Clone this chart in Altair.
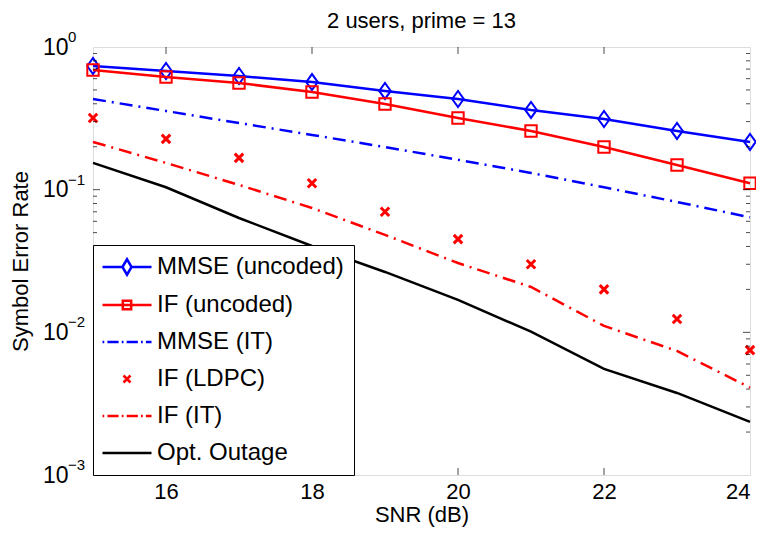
import math
import altair as alt
import pandas as pd

# ---------------- data ----------------
snr = [15, 16, 17, 18, 19, 20, 21, 22, 23, 24]
series_names = ["MMSE (uncoded)", "IF (uncoded)", "MMSE (IT)", "IF (LDPC)", "IF (IT)", "Opt. Outage"]
mmse_uncoded = [0.736, 0.679, 0.626, 0.568, 0.492, 0.432, 0.362, 0.313, 0.258, 0.216]
if_uncoded = [0.690, 0.616, 0.559, 0.484, 0.399, 0.318, 0.258, 0.199, 0.149, 0.111]
mmse_it = [0.432, 0.356, 0.293, 0.242, 0.199, 0.162, 0.131, 0.104, 0.082, 0.064]
if_ldpc = [0.318, 0.227, 0.167, 0.111, 0.070, 0.045, 0.030, 0.020, 0.0124, 0.0075]
if_it = [0.216, 0.154, 0.108, 0.0744, 0.0482, 0.0306, 0.0208, 0.0111, 0.0074, 0.0041]
opt_outage = [0.154, 0.104, 0.0633, 0.0403, 0.0265, 0.0169, 0.0101, 0.00554, 0.00376, 0.00236]

x_tick_values = [16, 18, 20, 22, 24]
y_tick_values = [0.001, 0.01, 0.1, 1]
y_tick_base = "10"
y_tick_exponents = ["−3", "−2", "−1", "0"]
x_major_inner = [16, 18, 20, 22]
y_major_inner = [0.01, 0.1]
y_minor_inner = [m * 10.0 ** e for e in (-3, -2, -1) for m in range(2, 10)]

title_text = "2 users, prime = 13"
x_title = "SNR (dB)"
y_title = "Symbol Error Rate"

# ---------------- styling ----------------
FONT = "Liberation Sans"
BLUE = "#0000ff"
RED = "#ff0000"
BLACK = "#000000"
W, H = 657, 428
DASHDOT = [13, 6, 2, 6]

all_values = [mmse_uncoded, if_uncoded, mmse_it, if_ldpc, if_it, opt_outage]
rows = []
for name, vals in zip(series_names, all_values):
    for s, v in zip(snr, vals):
        rows.append({"snr": s, "ser": v, "series": name})
df = pd.DataFrame(rows)

xs = alt.Scale(domain=[15, 24], nice=False, zero=False)
ys = alt.Scale(type="log", domain=[0.001, 1], nice=False)

x_axis = alt.Axis(values=x_tick_values, format="d", grid=False, ticks=False, tickSize=0,
                  domain=False, labelFont=FONT, labelFontSize=22, labelColor=BLACK,
                  labelPadding=6, title=x_title, titleFont=FONT, titleFontSize=22,
                  titleFontWeight="normal", titleColor=BLACK, titlePadding=2)
y_axis = alt.Axis(values=y_tick_values, labelExpr=f"'{y_tick_base}'", grid=False, ticks=False,
                  tickSize=0, domain=False, labelFont=FONT, labelFontSize=23,
                  labelColor=BLACK, labelPadding=25, title=y_title, titleFont=FONT,
                  titleFontSize=22, titleFontWeight="normal", titleColor=BLACK,
                  titlePadding=10)

X = alt.X("snr:Q", scale=xs, axis=x_axis)
Y = alt.Y("ser:Q", scale=ys, axis=y_axis)

base = alt.Chart(df)


def sel(name):
    return base.transform_filter(alt.datum.series == name)


layers = []
# MMSE uncoded
layers.append(sel(series_names[0]).mark_line(color=BLUE, strokeWidth=2.5).encode(x=X, y=Y))
layers.append(sel(series_names[0]).mark_point(
    shape="M-0.72,0L0,-1L0.72,0L0,1Z", size=256, filled=False, color=BLUE,
    strokeWidth=2, opacity=1).encode(x=X, y=Y))
# IF uncoded
layers.append(sel(series_names[1]).mark_line(color=RED, strokeWidth=2.5).encode(x=X, y=Y))
layers.append(sel(series_names[1]).mark_point(
    shape="square", size=130, filled=False, color=RED, strokeWidth=2,
    opacity=1).encode(x=X, y=Y))
# MMSE IT
layers.append(sel(series_names[2]).mark_line(color=BLUE, strokeWidth=2.5,
                                             strokeDash=DASHDOT).encode(x=X, y=Y))
# IF LDPC
layers.append(sel(series_names[3]).mark_point(
    shape="M-1,-1L1,1M-1,1L1,-1", size=72, filled=False, color=RED, strokeWidth=3,
    opacity=1).encode(x=X, y=Y))
# IF IT
layers.append(sel(series_names[4]).mark_line(color=RED, strokeWidth=2.5,
                                             strokeDash=DASHDOT).encode(x=X, y=Y))
# Opt outage
layers.append(sel(series_names[5]).mark_line(color=BLACK, strokeWidth=2.5).encode(x=X, y=Y))

# inner ticks
xt = pd.DataFrame({"snr": x_major_inner})
ytM = pd.DataFrame({"ser": y_major_inner})
ytm = pd.DataFrame({"ser": y_minor_inner})
for ypix in (0, H):
    layers.append(alt.Chart(xt).mark_tick(color=BLACK, thickness=1, size=14, clip=True)
                  .encode(x=X, y=alt.value(ypix)))
for xpix in (0, W):
    layers.append(alt.Chart(ytM).mark_tick(color=BLACK, thickness=1, size=14, clip=True)
                  .encode(y=Y, x=alt.value(xpix)))
    layers.append(alt.Chart(ytm).mark_tick(color=BLACK, thickness=1, size=8, clip=True)
                  .encode(y=Y, x=alt.value(xpix)))

# exponents of the y tick labels (superscripts)
exp_df = pd.DataFrame({"ser": y_tick_values, "exp": y_tick_exponents})
layers.append(alt.Chart(exp_df).mark_text(align="left", baseline="middle", font=FONT,
                                          fontSize=15, color=BLACK, dy=-10, dx=0)
              .encode(y=Y, x=alt.value(-25), text="exp:N"))

# legend layer (invisible points; legend only)
legend_paths = [
    "M-3.5,0L-0.65,0M0.65,0L3.5,0M-0.65,0L0,-1.1L0.65,0L0,1.1Z",
    "M-3.5,0L3.5,0M-0.6,-0.6L0.6,-0.6L0.6,0.6L-0.6,0.6Z",
    "M-3.5,0L-3.25,0M-2.8,0L-1.2,0M-0.75,0L-0.5,0M-0.05,0L1.55,0M2,0L2.25,0M2.7,0L3.5,0",
    "M-0.5,-0.5L0.5,0.5M-0.5,0.5L0.5,-0.5",
    "M-3.5,0L-3.25,0M-2.8,0L-1.2,0M-0.75,0L-0.5,0M-0.05,0L1.55,0M2,0L2.25,0M2.7,0L3.5,0",
    "M-3.5,0L3.5,0",
]
legend_colors = [BLUE, RED, BLUE, RED, RED, BLACK]
legend_df = pd.DataFrame({"series": series_names, "snr": [snr[0]] * 6,
                          "ser": [v[0] for v in all_values]})
leg = alt.Legend(title=None, orient="bottom-left", offset=0, padding=10,
                 fillColor="white", strokeColor="black", labelFont=FONT,
                 labelFontSize=24, labelColor=BLACK, symbolSize=196,
                 symbolStrokeWidth=2.5, symbolOffset=12, labelOffset=18,
                 rowPadding=13, symbolOpacity=1, labelLimit=400)
layers.append(alt.Chart(legend_df).mark_point(filled=False, opacity=0, size=196).encode(
    x=X, y=Y,
    color=alt.Color("series:N", scale=alt.Scale(domain=series_names, range=legend_colors),
                    legend=leg),
    shape=alt.Shape("series:N", scale=alt.Scale(domain=series_names, range=legend_paths),
                    legend=leg),
))

chart = alt.layer(*layers).properties(
    width=W, height=H,
    title=alt.TitleParams(title_text, font=FONT, fontSize=22, fontWeight="normal",
                          color=BLACK, anchor="middle", frame="group", offset=-3),
    autosize=alt.AutoSizeParams(type="none"),
    padding={"left": 85, "top": 39, "right": 6, "bottom": 53},
).configure_view(stroke="black", strokeWidth=1).configure(background="white")

chart.save("out.html", embed_options={"renderer": "svg", "actions": False})
